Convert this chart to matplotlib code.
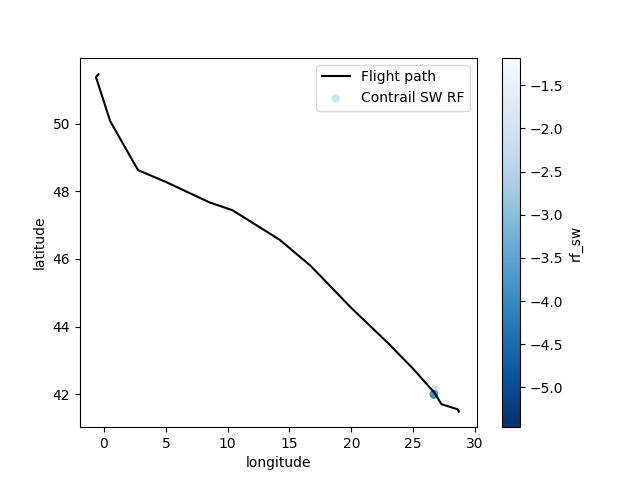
import matplotlib
matplotlib.use("Agg")
import matplotlib.pyplot as plt

# flight track
longitude = [-0.45, -0.65, 0.5, 2.75, 5.0, 8.5, 10.4, 14.2, 16.7, 20.0, 23.0, 25.0, 26.7, 27.3, 28.6, 28.7]
latitude = [51.47, 51.38, 50.08, 48.63, 48.28, 47.68, 47.44, 46.57, 45.8, 44.55, 43.5, 42.75, 42.05, 41.7, 41.55, 41.48]

# contrail waypoints, the first one sets the legend colour
contrail_lon = [26.76, 26.76, 26.76, 26.68, 26.68]
contrail_lat = [42.14, 42.14, 42.14, 41.99, 41.99]
rf_sw = [-2.0, -1.18, -2.0, -5.46, -3.9]

fig, ax = plt.subplots()
ax.plot(longitude, latitude, color="k", label="Flight path")
sc = ax.scatter(contrail_lon, contrail_lat, c=rf_sw, cmap="Blues_r", s=25, label="Contrail SW RF")

ax.set_xlim(-1.94, 30.15)
ax.set_ylim(41.02, 51.96)
ax.set_xlabel("longitude")
ax.set_ylabel("latitude")
ax.legend()

cbar = fig.colorbar(sc, ax=ax)
cbar.set_label("rf_sw")

plt.savefig("out.png")
